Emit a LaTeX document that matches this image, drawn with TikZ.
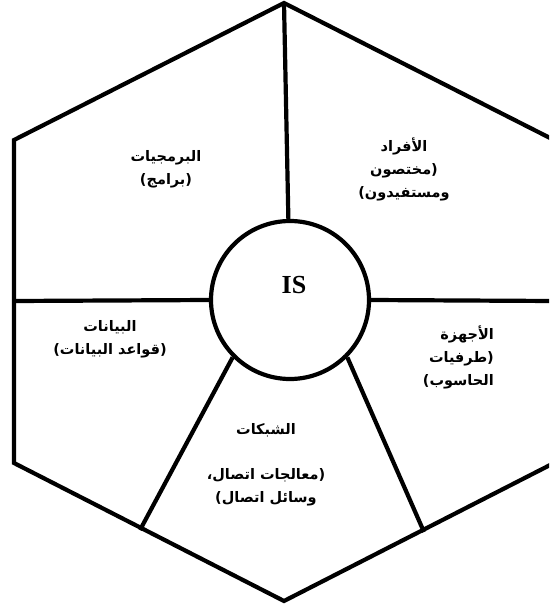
\documentclass[tikz,border=0pt]{standalone}
\usepackage{fontspec}
\usepackage{tikz}
\setmainfont{Liberation Serif}
\newfontfamily\arabicfont[Script=Arabic, BoldFont={DejaVu Sans Bold}]{DejaVu Sans}
\TeXXeTstate=1
\usetikzlibrary{positioning, calc}
\newcommand{\rtl}[1]{\beginR#1\endR}

\begin{document}
\begin{tikzpicture}[
  x=1pt, y=-1pt,
  edge/.style={draw=black, line width=4.2pt, line join=miter},
  hub/.style={circle, draw=black, line width=4.2pt, minimum size=158pt, inner sep=0pt},
  hubtext/.style={font=\fontsize{26}{28}\selectfont\bfseries, inner sep=0pt},
  part/.style={font=\arabicfont\bfseries\fontsize{14.5}{23}\selectfont, align=center, inner sep=0pt}
]
  \useasboundingbox (0,0) rectangle (549,605);
  \clip (0,0) rectangle (549,605);

  \coordinate (top) at (284,3);
  \coordinate (ul)  at (14,140);
  \coordinate (ll)  at (14,463);
  \coordinate (bot) at (284,601);
  \coordinate (lr)  at (554,463);
  \coordinate (ur)  at (554,140);
  \coordinate (wl)  at (14,301);
  \coordinate (wr)  at (554,301);
  \coordinate (sl)  at (140,530);
  \coordinate (sr)  at (424,532);

  \draw[edge] (top) -- (ul) -- (ll) -- (bot) -- (lr) -- (ur) -- cycle;

  \node[hub] (is) at (290,300) {};
  \node[hubtext] (islbl) at (294,285) {IS};

  \node[part] (soft)   at (166,169) {\rtl{البرمجيات}\\\rtl{(برامج)}};
  \node[part] (people) at (404,169) {\rtl{الأفراد}\\\rtl{(مختصون}\\\rtl{ومستفيدون)}};
  \node[part] (data)   at (110,339) {\rtl{البيانات}\\\rtl{(قواعد البيانات)}};
  \node[part, align=right, anchor=east] (hw) at (494,357) {\rtl{الأجهزة}\\\rtl{(طرفيات}\\\rtl{الحاسوب)}};
  \node[part] (net)    at (266,465) {\rtl{الشبكات}\\[22pt]\rtl{(معالجات اتصال،}\\\rtl{وسائل اتصال)}};

  \draw[edge] (is)      -- (top);
  \draw[edge] (is.west) -- (wl);
  \draw[edge] (is.east) -- (wr);
  \draw[edge] (is.-135) -- (sl);
  \draw[edge] (is.-45)  -- (sr);
\end{tikzpicture}
\end{document}
